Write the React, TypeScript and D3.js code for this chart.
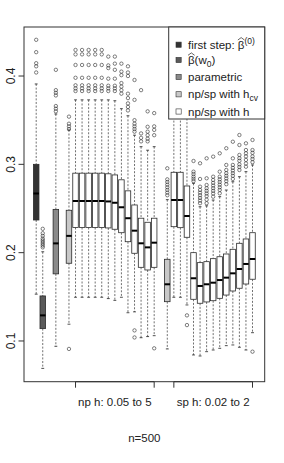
import React, { useRef, useEffect } from "react";
import * as d3 from "d3";

const WIDTH = 284;
const HEIGHT = 463;

// box positions on the x axis (the "at" slots of the boxplot)
const POSITIONS = [
  1, 2, 4, 6,
  7, 8, 9, 10, 11, 12, 13, 14, 15, 16, 17, 18, 19,
  21,
  22, 23, 24, 25, 26, 27, 28, 29, 30, 31, 32, 33, 34,
];

const METHODS = [
  "first", "w0", "param", "hcv",
  "h", "h", "h", "h", "h", "h", "h", "h", "h", "h", "h", "h", "h",
  "hcv",
  "h", "h", "h", "h", "h", "h", "h", "h", "h", "h", "h", "h", "h",
];

const LOWER = [
  0.153, 0.069, 0.094, 0.119,
  0.1495, 0.1495, 0.1495, 0.1495, 0.1495, 0.148, 0.146, 0.1495, 0.132, 0.133, 0.1037, 0.105, 0.106,
  0.091,
  0.1495, 0.1495, 0.1408, 0.0842, 0.083, 0.0879, 0.0898, 0.0917, 0.0947, 0.0955, 0.0929, 0.0898, 0.1094,
];
const Q1 = [
  0.237, 0.114, 0.176, 0.188,
  0.2285, 0.2285, 0.2285, 0.2285, 0.2285, 0.228, 0.2265, 0.2226, 0.2124, 0.1993, 0.1834, 0.1804, 0.1834,
  0.1445,
  0.2294, 0.2283, 0.2174, 0.1472, 0.1427, 0.1442, 0.1456, 0.1483, 0.152, 0.1566, 0.1597, 0.1645, 0.1699,
];
const MEDIAN = [
  0.267, 0.129, 0.2105, 0.219,
  0.2585, 0.2585, 0.2585, 0.2585, 0.2585, 0.258, 0.2565, 0.2514, 0.239, 0.2249, 0.2106, 0.206, 0.2113,
  0.1642,
  0.2596, 0.2596, 0.2415, 0.171, 0.1623, 0.1642, 0.166, 0.169, 0.1717, 0.1766, 0.1815, 0.1872, 0.1928,
];
const Q3 = [
  0.3, 0.151, 0.249, 0.248,
  0.29, 0.29, 0.29, 0.29, 0.29, 0.2893, 0.288, 0.2825, 0.27, 0.254, 0.239, 0.2344, 0.239,
  0.1925,
  0.291, 0.291, 0.2755, 0.2, 0.1887, 0.1898, 0.1932, 0.1954, 0.1985, 0.2038, 0.2106, 0.2155, 0.2226,
];
const UPPER = [
  0.391, 0.201, 0.357, 0.339,
  0.373, 0.373, 0.373, 0.373, 0.373, 0.373, 0.372, 0.363, 0.355, 0.333, 0.32, 0.316, 0.32,
  0.26,
  0.374, 0.374, 0.36, 0.2785, 0.252, 0.253, 0.2596, 0.2634, 0.2709, 0.2803, 0.286, 0.2917, 0.2993,
];
const OUTLIERS: number[][] = [
  [0.441, 0.427, 0.4145, 0.411, 0.404],
  [0.227, 0.222, 0.219, 0.216, 0.214, 0.212, 0.21, 0.208, 0.206],
  [0.407, 0.384, 0.381, 0.378, 0.366, 0.363, 0.36],
  [0.354, 0.346, 0.343, 0.34, 0.091],
  [0.4295, 0.4245, 0.4125, 0.398, 0.3895, 0.386, 0.383],
  [0.4295, 0.4245, 0.4125, 0.398, 0.3895, 0.386, 0.383],
  [0.4295, 0.4245, 0.4125, 0.398, 0.3895, 0.386, 0.383],
  [0.4295, 0.4245, 0.4125, 0.398, 0.3895, 0.386, 0.383],
  [0.4295, 0.4245, 0.4125, 0.398, 0.3895, 0.386, 0.383],
  [0.422, 0.412, 0.409, 0.397, 0.389, 0.386, 0.383],
  [0.422, 0.414, 0.407, 0.397, 0.389, 0.386, 0.383],
  [0.414, 0.405, 0.401, 0.392, 0.388, 0.384, 0.38],
  [0.411, 0.404, 0.4, 0.38, 0.375, 0.369, 0.365, 0.361],
  [0.3955, 0.373, 0.35, 0.346, 0.343, 0.34, 0.337, 0.112, 0.104],
  [0.384, 0.335, 0.33, 0.326],
  [0.36, 0.3425, 0.337, 0.333, 0.329, 0.326],
  [0.358, 0.343, 0.339, 0.333, 0.0917],
  [0.2955, 0.283, 0.28, 0.277, 0.274, 0.271, 0.268, 0.265],
  [0.429, 0.41, 0.397, 0.388],
  [0.425, 0.41, 0.397, 0.388],
  [0.4, 0.38, 0.372, 0.129, 0.118],
  [0.3038, 0.2917, 0.289, 0.286, 0.2835, 0.281],
  [0.3012, 0.2834, 0.2747, 0.271, 0.268, 0.265, 0.262, 0.259, 0.256],
  [0.3068, 0.2842, 0.2766, 0.273, 0.27, 0.267, 0.264, 0.26, 0.256],
  [0.3087, 0.286, 0.2823, 0.279, 0.276, 0.273, 0.27, 0.267, 0.2634],
  [0.3125, 0.2917, 0.286, 0.283, 0.28, 0.277, 0.274, 0.271, 0.2672],
  [0.3182, 0.2993, 0.2936, 0.29, 0.287, 0.284, 0.281, 0.2775],
  [0.3256, 0.3068, 0.2993, 0.296, 0.293, 0.29, 0.287, 0.2835],
  [0.3332, 0.3219, 0.3106, 0.307, 0.304, 0.3, 0.297, 0.2936],
  [0.3238, 0.3162, 0.3125, 0.309, 0.305, 0.301, 0.2973],
  [0.3276, 0.3162, 0.313, 0.309, 0.306, 0.3025, 0.0879],
];

const Y_TICKS = [0.1, 0.2, 0.3, 0.4];
const GROUP_SPANS = [
  [7, 19],
  [22, 34],
];
const GROUP_LABELS = ["np h: 0.05 to 5", "sp h: 0.02 to 2"];
const SUBTITLE = "n=500";

const LEGEND_KEYS = ["first", "w0", "param", "hcv", "h"];

const FILLS: Record<string, string> = {
  first: "#333333",
  w0: "#5a5a5a",
  param: "#8a8a8a",
  hcv: "#c8c8c8",
  h: "#ffffff",
};

const FONT = "'Liberation Sans', Arial, Helvetica, sans-serif";

export default function App() {
  const svgRef = useRef<SVGSVGElement>(null);

  useEffect(() => {
    if (!svgRef.current) return;
    const svg = d3.select(svgRef.current);
    svg.selectAll("*").remove();

    const plot = { left: 24, right: 264.7, top: 27, bottom: 381.7 };

    const x = d3.scaleLinear().domain([-0.86, 35.86]).range([plot.left, plot.right]);
    const y = d3.scaleLinear().domain([0.0539, 0.4555]).range([plot.bottom, plot.top]);

    const halfBox = x(0.42) - x(0);
    const halfStaple = x(0.22) - x(0);

    const g = svg.append("g");

    // boxes
    POSITIONS.forEach((p, i) => {
      const cx = x(p);
      const b = g.append("g");

      // whiskers
      b.append("line")
        .attr("x1", cx).attr("x2", cx)
        .attr("y1", y(UPPER[i])).attr("y2", y(Q3[i]))
        .attr("stroke", "#333").attr("stroke-width", 0.7)
        .attr("stroke-dasharray", "2,1.6");
      b.append("line")
        .attr("x1", cx).attr("x2", cx)
        .attr("y1", y(Q1[i])).attr("y2", y(LOWER[i]))
        .attr("stroke", "#333").attr("stroke-width", 0.7)
        .attr("stroke-dasharray", "2,1.6");

      // staples
      [UPPER[i], LOWER[i]].forEach((v) => {
        b.append("line")
          .attr("x1", cx - halfStaple).attr("x2", cx + halfStaple)
          .attr("y1", y(v)).attr("y2", y(v))
          .attr("stroke", "#222").attr("stroke-width", 0.8);
      });

      // box
      b.append("rect")
        .attr("x", cx - halfBox)
        .attr("y", y(Q3[i]))
        .attr("width", halfBox * 2)
        .attr("height", y(Q1[i]) - y(Q3[i]))
        .attr("fill", FILLS[METHODS[i]])
        .attr("stroke", "#2a2a2a")
        .attr("stroke-width", 0.8);

      // median
      b.append("line")
        .attr("x1", cx - halfBox).attr("x2", cx + halfBox)
        .attr("y1", y(MEDIAN[i])).attr("y2", y(MEDIAN[i]))
        .attr("stroke", "#000").attr("stroke-width", 2);

      // outliers
      b.selectAll("circle")
        .data(OUTLIERS[i])
        .join("circle")
        .attr("cx", cx)
        .attr("cy", (d) => y(d))
        .attr("r", 1.7)
        .attr("fill", "none")
        .attr("stroke", "#2a2a2a")
        .attr("stroke-width", 0.6);
    });

    // frame
    svg.append("rect")
      .attr("x", plot.left).attr("y", plot.top)
      .attr("width", plot.right - plot.left)
      .attr("height", plot.bottom - plot.top)
      .attr("fill", "none")
      .attr("stroke", "#333")
      .attr("stroke-width", 1);

    // y axis
    Y_TICKS.forEach((t) => {
      svg.append("line")
        .attr("x1", plot.left - 5.5).attr("x2", plot.left)
        .attr("y1", y(t)).attr("y2", y(t))
        .attr("stroke", "#333").attr("stroke-width", 1);
      svg.append("text")
        .attr("transform", `translate(${plot.left - 9},${y(t)}) rotate(-90)`)
        .attr("text-anchor", "middle")
        .style("font-family", FONT)
        .style("font-size", "12px")
        .style("fill", "#222")
        .text(t.toFixed(1));
    });

    // x axis groups
    GROUP_SPANS.forEach(([a, b], gi) => {
      svg.append("line")
        .attr("x1", x(a)).attr("x2", x(b))
        .attr("y1", plot.bottom).attr("y2", plot.bottom)
        .attr("stroke", "#333").attr("stroke-width", 1);
      [a, b].forEach((t) => {
        svg.append("line")
          .attr("x1", x(t)).attr("x2", x(t))
          .attr("y1", plot.bottom).attr("y2", plot.bottom + 6)
          .attr("stroke", "#333").attr("stroke-width", 1);
      });
      svg.append("text")
        .attr("x", (x(a) + x(b)) / 2)
        .attr("y", 405.5)
        .attr("text-anchor", "middle")
        .style("font-family", FONT)
        .style("font-size", "11.5px")
        .style("fill", "#222")
        .text(GROUP_LABELS[gi]);
    });

    svg.append("text")
      .attr("x", (plot.left + plot.right) / 2)
      .attr("y", 441.5)
      .attr("text-anchor", "middle")
      .style("font-family", FONT)
      .style("font-size", "11.5px")
      .style("fill", "#222")
      .text(SUBTITLE);

    // legend
    const lg = svg.append("g");
    const lx = 168.7;
    lg.append("rect")
      .attr("x", lx).attr("y", plot.top)
      .attr("width", plot.right - lx)
      .attr("height", 119 - plot.top)
      .attr("fill", "#fff")
      .attr("stroke", "#333")
      .attr("stroke-width", 1);

    const rowY = [44.7, 60, 77, 94.3, 111.5];
    const textX = 188;

    LEGEND_KEYS.forEach((k, i) => {
      lg.append("rect")
        .attr("x", 176).attr("y", rowY[i] - 2.6)
        .attr("width", 5.2).attr("height", 5.2)
        .attr("fill", FILLS[k])
        .attr("stroke", "#333").attr("stroke-width", 0.6);
    });

    const addText = (i: number) =>
      lg.append("text")
        .attr("x", textX)
        .attr("y", rowY[i] + 4)
        .style("font-family", FONT)
        .style("font-size", "11.5px")
        .style("fill", "#222");

    const addHat = (t: d3.Selection<SVGTextElement, unknown, null, undefined>, idx: number, i: number) => {
      const node = t.node() as SVGTextElement;
      const s = node.getStartPositionOfChar(idx).x;
      const e = node.getEndPositionOfChar(idx).x;
      const top = rowY[i] + 4 - 10.5;
      lg.append("path")
        .attr("d", `M${s},${top + 1.8} L${(s + e) / 2},${top - 0.6} L${e},${top + 1.8}`)
        .attr("fill", "none")
        .attr("stroke", "#222")
        .attr("stroke-width", 0.7);
    };

    // row 1: first step: beta-hat^(0)
    const t1 = addText(0);
    t1.append("tspan").text("first step: \u03B2");
    t1.append("tspan").attr("dy", -5).style("font-size", "8.5px").text("(0)");
    addHat(t1, 12, 0);

    // row 2: beta-hat(w0)
    const t2 = addText(1);
    t2.append("tspan").text("\u03B2(w");
    t2.append("tspan").attr("dy", 3).style("font-size", "8.5px").text("0");
    t2.append("tspan").attr("dy", -3).text(")");
    addHat(t2, 0, 1);

    addText(2).text("parametric");

    const t4 = addText(3);
    t4.append("tspan").text("np/sp with h");
    t4.append("tspan").attr("dy", 3).style("font-size", "8.5px").text("cv");

    addText(4).text("np/sp with h");
  }, []);

  return (
    <svg
      ref={svgRef}
      width={WIDTH}
      height={HEIGHT}
      style={{ position: "absolute", left: 0, top: 0, background: "#fff" }}
      viewBox={`0 0 ${WIDTH} ${HEIGHT}`}
    />
  );
}
